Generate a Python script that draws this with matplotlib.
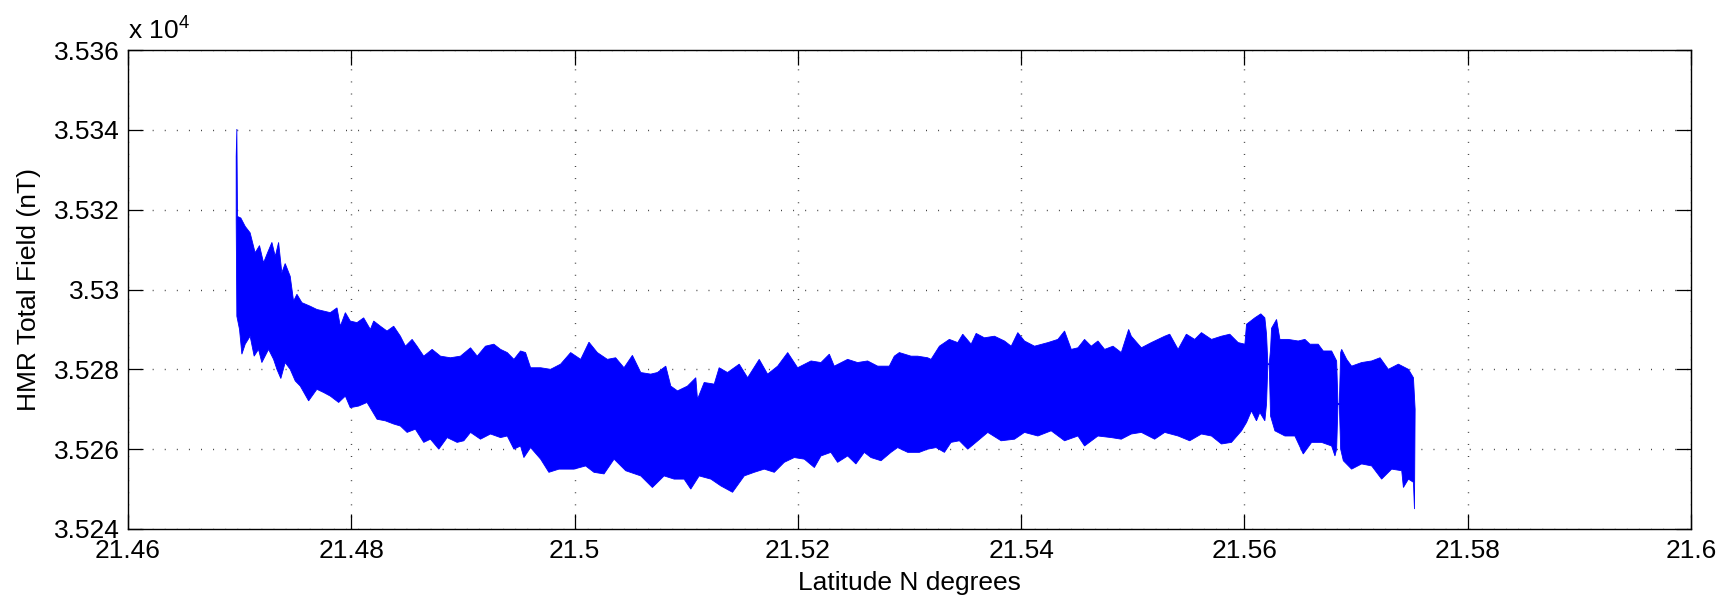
import matplotlib
matplotlib.use("Agg")
import matplotlib.pyplot as plt
from matplotlib.ticker import FuncFormatter

plt.rcParams['font.family'] = ['Liberation Sans', 'DejaVu Sans']
plt.rcParams['mathtext.fontset'] = 'custom'
plt.rcParams['mathtext.rm'] = 'Liberation Sans'
plt.rcParams['mathtext.it'] = 'Liberation Sans'

# Upper envelope of the HMR total field trace (latitude deg N, nT)
upper_lat = [21.46969, 21.46975, 21.46981, 21.47011, 21.47050, 21.47094, 21.47139, 21.47178,
             21.47214, 21.47250, 21.47289, 21.47319, 21.47349, 21.47378, 21.47408, 21.47453,
             21.47483, 21.47513, 21.47558, 21.47633, 21.47692, 21.47752, 21.47812, 21.47872,
             21.47902, 21.47947, 21.47991, 21.48051, 21.48111, 21.48171, 21.48201, 21.48261,
             21.48320, 21.48380, 21.48440, 21.48485, 21.48545, 21.48589, 21.48649, 21.48724,
             21.48799, 21.48888, 21.48978, 21.49068, 21.49128, 21.49202, 21.49277, 21.49337,
             21.49397, 21.49457, 21.49516, 21.49561,
             21.49606, 21.49696, 21.49785, 21.49875, 21.49965, 21.50055, 21.50129, 21.50204,
             21.50294, 21.50368, 21.50443, 21.50518, 21.50593, 21.50682, 21.50742, 21.50817,
             21.50862, 21.50922, 21.51011, 21.51086, 21.51101, 21.51161, 21.51251, 21.51295,
             21.51370, 21.51475, 21.51550, 21.51654, 21.51729, 21.51819, 21.51909, 21.51998,
             21.52118, 21.52207, 21.52282,
             21.52326, 21.52446, 21.52535, 21.52625, 21.52715, 21.52819, 21.52864, 21.52909,
             21.53014, 21.53073, 21.53163, 21.53193, 21.53268, 21.53357, 21.53432, 21.53477,
             21.53552, 21.53597, 21.53671, 21.53761, 21.53851, 21.53911, 21.53970, 21.54030,
             21.54120, 21.54240, 21.54329, 21.54389, 21.54449, 21.54509, 21.54568, 21.54628,
             21.54688, 21.54748, 21.54823, 21.54897, 21.54963,
             21.54987, 21.55077, 21.55166, 21.55286, 21.55331, 21.55406, 21.55480, 21.55555,
             21.55615, 21.55705, 21.55794, 21.55869, 21.55944, 21.56004, 21.56019, 21.56093,
             21.56147, 21.56183, 21.56198, 21.56210, 21.56222, 21.56234, 21.56243, 21.56288,
             21.56318, 21.56392, 21.56482, 21.56542, 21.56587, 21.56661, 21.56706, 21.56781,
             21.56826, 21.56838, 21.56850, 21.56862, 21.56871, 21.56916, 21.56960, 21.57050,
             21.57140, 21.57215, 21.57289, 21.57379, 21.57469, 21.57514, 21.57529]
upper_nT = [35333.3, 35340.2, 35318.3, 35317.9, 35315.8, 35314.2, 35309.2, 35311.0,
            35306.7, 35309.2, 35311.8, 35308.3, 35311.8, 35304.2, 35306.5, 35303.3,
            35297.1, 35298.8, 35296.7, 35295.8, 35295.0, 35294.6, 35294.2, 35295.4,
            35290.8, 35294.2, 35292.1, 35291.7, 35292.9, 35290.0, 35292.1, 35290.8,
            35289.6, 35290.8, 35288.3, 35285.8, 35287.5, 35285.8, 35283.3, 35285.0,
            35283.3, 35282.9, 35283.3, 35285.4, 35283.3, 35285.8, 35286.3, 35285.0,
            35284.2, 35282.5, 35284.6, 35284.2,
            35280.4, 35280.4, 35280.0, 35281.3, 35284.2, 35282.5, 35286.8, 35284.2,
            35282.5, 35282.9, 35280.4, 35283.5, 35279.2, 35278.8, 35279.2, 35280.8,
            35275.8, 35274.6, 35275.8, 35277.9, 35272.5, 35276.7, 35276.3, 35280.4,
            35279.2, 35281.3, 35277.9, 35282.5, 35278.8, 35280.8, 35284.2, 35280.4,
            35282.1, 35281.7, 35283.8,
            35280.8, 35282.5, 35281.7, 35282.1, 35280.8, 35280.8, 35283.3, 35284.2,
            35283.3, 35283.3, 35282.9, 35282.5, 35285.8, 35287.5, 35286.7, 35288.8,
            35286.3, 35289.0, 35287.9, 35288.3, 35287.1, 35285.8, 35289.2, 35287.1,
            35285.8, 35286.7, 35287.5, 35289.6, 35285.0, 35285.4, 35287.5, 35285.8,
            35287.1, 35285.0, 35285.8, 35284.2, 35290.0,
            35288.3, 35285.4, 35286.7, 35288.3, 35288.8, 35285.0, 35288.8, 35287.5,
            35289.2, 35287.5, 35288.3, 35288.8, 35286.7, 35286.3, 35291.3, 35292.9,
            35293.9, 35292.9, 35288.8, 35281.3, 35281.3, 35285.0, 35290.3, 35292.5,
            35287.5, 35287.5, 35287.1, 35287.5, 35286.3, 35286.3, 35284.6, 35284.6,
            35282.1, 35271.3, 35271.3, 35284.2, 35285.0, 35282.5, 35280.8, 35281.7,
            35282.1, 35282.9, 35280.0, 35281.3, 35280.0, 35277.9, 35270.0]

# Lower envelope of the trace (latitude deg N, nT)
lower_lat = [21.46969, 21.46975, 21.46999, 21.47020, 21.47050, 21.47094, 21.47130, 21.47169,
             21.47199, 21.47259, 21.47304, 21.47334, 21.47369, 21.47408, 21.47453, 21.47498,
             21.47543, 21.47618, 21.47692, 21.47752, 21.47812, 21.47887, 21.47947, 21.47991,
             21.48066, 21.48141, 21.48231, 21.48305, 21.48380, 21.48440, 21.48500, 21.48574,
             21.48649, 21.48709, 21.48784, 21.48859, 21.48948, 21.49008, 21.49068, 21.49157,
             21.49247, 21.49337, 21.49397, 21.49457, 21.49516, 21.49546, 21.49606,
             21.49696, 21.49770, 21.49860, 21.49995, 21.50099, 21.50174, 21.50264, 21.50354,
             21.50458, 21.50593, 21.50697, 21.50802, 21.50892, 21.50981, 21.51041, 21.51116,
             21.51221, 21.51310, 21.51415, 21.51520, 21.51609, 21.51699, 21.51789, 21.51878,
             21.51968, 21.52058, 21.52148, 21.52207, 21.52296,
             21.52356, 21.52446, 21.52520, 21.52595, 21.52655, 21.52745, 21.52834, 21.52894,
             21.52984, 21.53088, 21.53163, 21.53238, 21.53313, 21.53372, 21.53447, 21.53522,
             21.53612, 21.53701, 21.53821, 21.53941, 21.54030, 21.54150, 21.54269, 21.54389,
             21.54509, 21.54568, 21.54688, 21.54808, 21.54897, 21.54987,
             21.55077, 21.55196, 21.55286, 21.55406, 21.55510, 21.55615, 21.55705, 21.55794,
             21.55884, 21.55974, 21.56019, 21.56063, 21.56108, 21.56138, 21.56183, 21.56198,
             21.56210, 21.56222, 21.56234, 21.56273, 21.56363, 21.56452, 21.56527, 21.56602,
             21.56691, 21.56781, 21.56811, 21.56826, 21.56838, 21.56850, 21.56862, 21.56886,
             21.56960, 21.57050, 21.57140, 21.57229, 21.57319, 21.57409, 21.57424, 21.57469,
             21.57514, 21.57523, 21.57529]
lower_nT = [35317.5, 35293.3, 35290.0, 35283.8, 35286.3, 35288.3, 35283.3, 35285.0,
            35281.7, 35285.0, 35282.5, 35280.0, 35277.7, 35281.7, 35280.0, 35277.1,
            35275.8, 35272.1, 35275.0, 35274.2, 35273.3, 35271.7, 35273.3, 35270.4,
            35270.8, 35271.7, 35267.5, 35267.1, 35266.3, 35265.8, 35264.2, 35265.0,
            35261.7, 35262.5, 35260.0, 35262.9, 35261.7, 35262.1, 35264.2, 35262.5,
            35263.8, 35262.9, 35263.3, 35260.0, 35260.8, 35257.9, 35260.4,
            35257.5, 35254.2, 35255.0, 35255.0, 35255.8, 35254.2, 35253.8, 35257.5,
            35254.6, 35253.3, 35250.4, 35253.3, 35252.5, 35252.5, 35250.0, 35253.3,
            35252.5, 35250.8, 35249.2, 35253.3, 35254.2, 35255.0, 35254.2, 35256.7,
            35257.9, 35257.5, 35255.4, 35258.3, 35259.2,
            35256.7, 35258.3, 35256.3, 35259.2, 35257.9, 35257.1, 35259.2, 35260.4,
            35259.2, 35259.2, 35260.0, 35260.4, 35259.2, 35261.7, 35262.1, 35260.0,
            35262.1, 35264.2, 35262.1, 35262.5, 35264.2, 35263.3, 35264.6, 35262.1,
            35263.3, 35260.8, 35263.3, 35262.9, 35262.5, 35263.8,
            35264.2, 35262.5, 35264.2, 35263.3, 35262.1, 35263.8, 35263.3, 35261.3,
            35261.7, 35264.6, 35266.7, 35269.6, 35267.1, 35269.2, 35267.1, 35271.3,
            35281.3, 35281.3, 35268.3, 35264.6, 35263.3, 35263.3, 35258.8, 35261.7,
            35261.7, 35260.8, 35258.3, 35260.0, 35271.3, 35271.3, 35260.0, 35257.1,
            35255.0, 35256.3, 35255.8, 35252.5, 35255.0, 35254.6, 35250.4, 35252.5,
            35251.7, 35245.0, 35270.0]

x_ticks = [21.46, 21.48, 21.50, 21.52, 21.54, 21.56, 21.58, 21.60]
y_ticks = [35240, 35260, 35280, 35300, 35320, 35340, 35360]

W, H = 1736, 602
fig = plt.figure(figsize=(W / 100, H / 100), dpi=100)
ax = fig.add_axes([128 / W, 1 - 529 / H, (1691 - 128) / W, (529 - 50) / H])

poly_x = upper_lat + lower_lat[::-1]
poly_y = upper_nT + lower_nT[::-1]
ax.fill(poly_x, poly_y, facecolor='#0000ff', edgecolor='#0000ff', linewidth=0.6, zorder=3)

ax.set_xlim(21.46, 21.60)
ax.set_ylim(35240, 35360)
ax.set_xticks(x_ticks)
ax.set_yticks(y_ticks)
ax.xaxis.set_major_formatter(FuncFormatter(lambda v, p: '%g' % round(v, 4)))
ax.yaxis.set_major_formatter(FuncFormatter(lambda v, p: '%g' % round(v / 1e4, 5)))

ax.grid(True, color='#404040', linestyle=(0, (0.7, 8)), linewidth=1.0, zorder=1)
ax.tick_params(direction='in', length=11, width=0.9, top=True, right=True,
               labelsize=19, colors='black')
ax.tick_params(axis='x', pad=7)
ax.tick_params(axis='y', pad=6)
for s in ax.spines.values():
    s.set_linewidth(1.0)
    s.set_color('black')

ax.set_xlabel('Latitude N degrees', fontsize=19, labelpad=6)
ax.set_ylabel('HMR Total Field (nT)', fontsize=19, labelpad=9)
ax.text(0.0, 1.012, r'x 10$^{4}$', transform=ax.transAxes, fontsize=19,
        ha='left', va='bottom')

fig.savefig('out.png', dpi=100)
